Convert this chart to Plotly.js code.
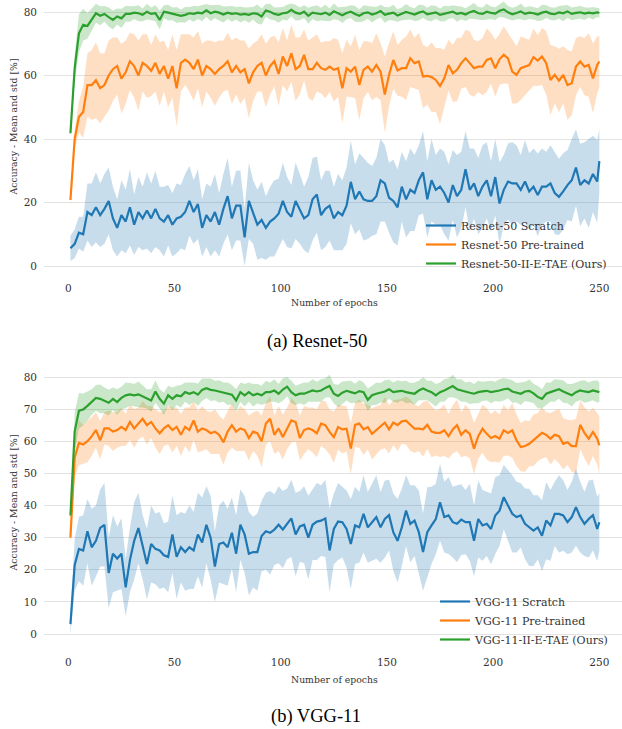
<!DOCTYPE html>
<html><head><meta charset="utf-8">
<script src="https://cdn.plot.ly/plotly-3.0.1.min.js"></script>
<style>html,body{margin:0;padding:0;background:#fff}</style>
</head><body>
<div id="chart" style="width:622px;height:729px"></div>
<script>
// epochs: 1, 3, 5, ..., 249, 250
const epochs = [];
for (let e = 1; e <= 249; e += 2) epochs.push(e);
epochs.push(250);

const xTicks = [0, 50, 100, 150, 200, 250];
const yTicksTop = [0, 20, 40, 60, 80];
const yTicksBottom = [0, 10, 20, 30, 40, 50, 60, 70, 80];

const namesTop = ["Resnet-50 Scratch", "Resnet-50 Pre-trained", "Resnet-50-II-E-TAE (Ours)"];
const namesBottom = ["VGG-11 Scratch", "VGG-11 Pre-trained", "VGG-11-II-E-TAE (Ours)"];

// ---- Resnet-50 ----
const resScratchMean = [
5.6,7,10.5,10,17,16,18.5,16,18,20.5,
15,12,16,14,18.5,13,17,15,17.5,15,
18,15,14,16,13,15,15.5,17,20.5,17,
19.5,12,16,14,17,13,18,22,15,19,
19,9,20.5,17,13,14.5,12,14,15,16.5,
20.5,17,15.5,20.5,18,15,16,21,22.5,16,
18,19,15,17,16,19,26.5,21,23.5,21,
20.5,20.5,22,27,26,21.5,20.5,18.5,25,21,
24,23,27,29.5,21,27,24,25,23,20,
25.5,22,24,30.5,24,26,22,25,27,22,
28,19.7,24,26.6,26,26,24,26.6,23.5,25,
22.4,25,25,26,23,21.8,23.5,25.5,27,31,
25.5,27,26,29,26.6,33];
const resScratchStd = [
4,4.5,5,5.5,9,10,11,10,11,10.5,
10,9,11,10,12,9.5,11,10,12,11,
12,10,11,9.5,10,11,10,12,11,10,
11,9,10,11,12,10,11,12,10,11,
11,9,12,10,11,12,10,11,12,11,
12,11,10,12,11,10,12,13,12,11,
12,11,10,12,11,12,13,11,12,13,
12,11,12,13,12,11,13,12,11,12,
13,12,11,13,12,13,11,12,13,12,
11,13,12,12,13,11,12,13,12,11,
12,13,11,12,13,12,11,13,12,12,
13,12,11,12,13,12,12,11,13,12,
13,12,14,12,13,10];
const resPreMean = [
20.8,40,47,48.5,57,57,58.5,56,57,60,
62,63,59,61,64.5,63,60,64,63,61.5,
64,60.5,63,59,63,56,64,65,64,62,
65,60,63,62,60.5,62,63,64.5,61,63,
61,62,57.5,61,63,64,60,63,64.5,60.5,
66,63,67,62,63,66.5,62,62,64,62.3,
61.8,62.8,61.8,62.3,56,62.3,61.2,62.8,57,61.8,
62.8,61.2,63.3,61.2,54,60.2,64.9,61.6,62.3,62.3,
65.4,63.9,64.4,59.7,59.9,59.5,58.6,56.7,59.1,63.3,
60.7,61.8,63.9,65.4,63.9,62.3,62.8,62.8,64.9,65.4,
62.3,65.1,66.5,65.4,61.2,60.2,62.3,62.8,63.3,65.8,
64.7,66,63.9,58.6,60.2,58.4,60.2,57,57.6,62.8,
64.4,62.8,63.3,59.1,63.3,64.4];
const resPreStd = [
2,3,5,8,10,11,12,11,10,11,
10,9,11,10,9,10,11,9,10,8,
9,10,8,9,10,12,9,8,9,10,
9,10,8,9,10,9,8,9,10,9,
10,9,11,9,8,9,10,9,8,10,
9,8,9,10,9,8,9,10,9,8,
9,8,10,9,11,9,8,10,11,9,
8,9,10,9,12,10,9,8,9,10,
9,8,9,10,9,11,10,12,9,8,
9,10,8,9,10,9,8,9,10,8,
9,8,9,8,10,9,10,9,8,9,
8,9,10,11,9,10,9,11,10,9,
8,9,10,11,9,8];
const resOursMean = [
41.8,62.3,73.3,76,75.6,77.5,79.6,78.8,79.4,78.4,
77.5,78.6,78,79.4,79.4,79.8,79.6,79.1,80.1,79.4,
79.6,77.5,80.1,79.8,79.4,79.1,78.8,79.1,79.6,79.4,
79.8,79.6,80.5,79.6,80.1,79.8,79.2,79.8,79.4,79.6,
79.2,79.4,79.1,79.6,79.4,78.6,80.5,80.1,79.4,79.1,
79.6,79.8,80.7,79.8,79.4,80.1,78.8,79.8,79.6,79.3,
79.8,79.1,80.2,79.5,79,79.7,80.1,79.4,78.8,79.6,
79.9,79.2,79.6,80.3,79.1,79.5,79.8,78.9,79.4,80,
79.6,79.2,79.8,80.2,79.3,79.6,79.9,79.1,79.5,79.8,
80.1,79.4,79.7,79.2,79.9,80.3,79.6,79.4,80.1,79.7,
79.5,80.4,80.8,79.9,79.3,79.7,80.2,79.4,79.8,79.6,
79.2,79.8,80.1,79.5,79.3,79.9,79.6,80.2,79.4,79.7,
79.9,79.5,79.8,79.6,79.9,79.7];
const resOursStd = [
1,4,6,5,4,3.5,3,3,2.5,3,
3,2.5,3,2.5,2.5,2,2.5,2,2.5,2,
2.5,3,2,2.5,2,2.5,2,2.5,2,2.5,
2,2.5,2,2.5,2,2.5,2.5,2,2.5,2,
2.5,2,2.5,2,3,2.5,2,2.5,2,2.5,
2,2.5,2,2.5,2,2,2.5,2,2.5,2,
2.5,2,2.5,2,2.5,2,2,2.5,2,2.5,
2,2.5,2,2,2.5,2,2.5,2,2,2.5,
2,2,2.5,2,2,2.5,2,2,2.5,2,
2,2.5,2,2,2,2.5,2,2,2.5,2,
2,2,2.5,2,2,2,2.5,2,2,2,
2,2.5,2,2,2,2,2.5,2,2,2,
2,2,1.5,2,1.5,1.5];

// ---- VGG-11 ----
const vggScratchMean = [
3.1,21.5,26.5,26,32,27,29,33,34,19,
25,23.5,25,14.5,23,29,33,27,21.8,28,
26.5,26,24.5,24,31,24,27,25.5,27,26,
31,28.5,34,30,21,28,28.5,27,31.5,25,
34,31,25,25.5,25.5,30.5,32,31.5,32.5,34,
32.5,34.3,36,31,33.5,34,30,34,35,35.3,
36,26,32.7,35,34.8,32.7,28,33.8,33.2,37.4,
33.2,34.8,36.4,33.2,35.8,37,31.7,29,33.2,38.4,
34.3,35.3,31.7,25.5,31.7,33.8,35.8,41,36.4,36.9,
34.8,34.3,35.6,34.8,34.8,29,35.8,33.8,34.3,32.7,
36.9,38.4,42.6,40,37.4,36.4,36.9,34.3,33.2,32.2,
33.2,30.6,35.3,33.8,37.4,37.4,36.9,34.8,36.4,39.5,
36.4,34.3,35.8,37,32.7,34.8];
const vggScratchStd = [
3,8,10,11,10,12,11,12,13,11,
12,10,11,9,10,12,11,10,11,12,
11,12,10,11,12,13,11,12,13,12,
13,14,12,13,11,12,13,12,11,12,
11,12,13,11,12,11,12,13,11,12,
12,11,12,13,11,12,13,11,12,11,
12,13,11,12,11,12,14,12,11,12,
11,12,13,11,12,11,12,13,12,11,
12,11,13,12,14,12,11,12,11,12,
11,12,11,10,12,11,12,11,10,11,
12,11,10,11,12,11,10,11,12,11,
10,11,12,11,10,12,11,10,11,12,
11,10,12,11,10,9];
const vggPreMean = [
30,55,59.5,59,60,61.5,63.5,60.3,64,64,
63,63.5,64.5,63.5,66,64,65.5,67,65,66,
64,62.5,64,65,63.5,64.5,62,64.5,63.5,66.5,
63,64,63.5,62.5,63,62,59.7,63,65,63,
64,63.5,61,63,62.5,60,65.5,67,62,64,
61.3,64,66.5,66,61,63.5,64,63.5,62.5,65.5,
65,62.9,61.3,64.4,63.7,63.9,57.7,65.1,65.5,63.7,
64.4,62.3,63.4,64.4,65.8,63.7,65.8,65,66.2,66.4,
65,63.9,63.9,63.7,65.1,63,62.6,62.6,63.4,61.6,
63.7,65,62,63.4,62.3,57.7,61.6,63.9,62.3,61,
61.6,60.8,63.4,62.6,63.4,60.3,58.2,58.5,59.2,60.3,
61.3,62.6,62,60.8,62,61.6,59.2,59.7,58.5,58.5,
65.1,62.6,60.8,62.9,60.8,58.7];
const vggPreStd = [
2,6,7,6,6.5,6,5.5,6,5,5.5,
6,5.5,6,5,5.5,6,5,5.5,6,5,
6,6.5,5.5,6,7,6,6.5,6,7,6,
6.5,7,6,6.5,7,6,7,6.5,7,6,
7,6.5,7,6,7,8,6.5,7,6,7,
7,6.5,7,6,7,7.5,6.5,7,7.5,7,
7.5,7,8,7,7.5,7,8,7,7.5,8,
7,8,7.5,7,8,7.5,7,8,7,7.5,
8,7.5,7,8.5,7.5,8,7,7.5,8,7,
7.5,8,7,8,7.5,8,7,7.5,8,7.5,
8,7.5,8,7,8.5,8,7.5,8,7,8,
7.5,8,7,8,7.5,8.5,8,7,8,8.5,
7.5,8,8.5,7.5,8,9];
const vggOursMean = [
36.9,63,69.5,69.9,71,72.2,73.5,73.2,72.7,72,
73.2,72.2,73.5,74.3,74.6,74.3,74.6,74,73.2,72.7,
75.5,73.2,71.7,74.3,73.2,74.3,74,75.3,74.8,75.3,
74.5,76,76.5,76,75.8,75.5,75.3,74.8,74.5,72.7,
75.3,74.3,75.3,74.3,74.8,74.3,75.3,75.3,75.8,74.8,
76.1,77,75.3,74.3,74.8,74.8,75.3,75.8,75.5,75.8,
76.6,77.2,74.8,74.1,75.1,75.7,75.3,74.9,75.6,75.3,
72.9,74.3,74.8,75.1,75.5,76.2,75.3,75.5,75.7,75.3,
75.1,74.8,75.8,76.4,75.8,75.3,74.3,75.3,75.8,76.6,
77.2,76.2,75.8,75.3,75.1,74.8,75.3,75.5,75.7,75.3,
75.5,75.8,76.2,76.4,75.5,75.1,74.8,75.5,75.7,74.9,
73.8,73.2,74.8,75.3,75.8,76.2,75.5,74.8,74.3,75.3,
75.8,75.5,75.3,75.8,75.5,75.3];
const vggOursStd = [
1,6,5.5,5,4.5,4,4,4.5,4,4,
3.5,4,3.5,4,3.5,3.5,4,3.5,3,3.5,
3.5,3,3.5,3,3.5,3,3.5,3,3.5,3,
3.5,3.5,3,3.5,3,3.5,3,3.5,3,3.5,
3,3.5,3,3.5,3,3,3.5,3,3.5,3,
3.5,3,3.5,3,3,3.5,3,3.5,3,3.5,
3,3.5,3,3.5,3.5,3,3.5,3,3.5,3,
3.5,3,3.5,3,3.5,3,3,3.5,3,3.5,
3,3.5,3,3.5,3,3.5,3.5,3,3.5,3,
3.5,3,3.5,3,3.5,3,3.5,3,3,3.5,
3,3.5,3.5,3,3.5,3,3.5,3,3.5,3,
3.5,3,3.5,3,3.5,3,3.5,3,3.5,3,
3,3.5,3,3,3.5,3];

const colors = ["#1f77b4", "#ff7f0e", "#2ca02c"];
const fills = ["rgba(31,119,180,0.25)", "rgba(255,127,14,0.25)", "rgba(44,160,44,0.25)"];

const W = 622, H = 729, L = 44;
const px = x => (x - L) / (W - L);
const py = y => 1 - y / H;

function buildPanel(means, stds, names, xa, ya, legendId) {
  const bands = [], lines = [];
  means.forEach((m, i) => {
    const s = stds[i];
    const lo = m.map((v, k) => v - s[k]);
    const hi = m.map((v, k) => v + s[k]);
    bands.push({x: epochs, y: lo, xaxis: xa, yaxis: ya, mode: "lines", line: {width: 0, color: fills[i]},
      showlegend: false, hoverinfo: "skip"});
    bands.push({x: epochs, y: hi, xaxis: xa, yaxis: ya, mode: "lines", line: {width: 0, color: fills[i]},
      fill: "tonexty", fillcolor: fills[i], showlegend: false, hoverinfo: "skip"});
    lines.push({x: epochs, y: m, xaxis: xa, yaxis: ya, mode: "lines", name: names[i],
      line: {color: colors[i], width: 2.2}, legend: legendId});
  });
  return bands.concat(lines);
}

const data = buildPanel([resScratchMean, resPreMean, resOursMean], [resScratchStd, resPreStd, resOursStd], namesTop, "x", "y", "legend")
  .concat(buildPanel([vggScratchMean, vggPreMean, vggOursMean], [vggScratchStd, vggPreStd, vggOursStd], namesBottom, "x2", "y2", "legend2"));

const tickFont = {family: "DejaVu Serif", size: 10.5, color: "#333"};
const smallFont = {family: "DejaVu Serif", size: 9.3, color: "#333"};
const capFont = {family: "Liberation Serif", size: 18.5, color: "#000"};
const legFont = {family: "DejaVu Serif", size: 11, color: "#333"};

const xBase = {range: [-11.45, 260.67], tickvals: xTicks, showgrid: false, zeroline: false, showline: false,
  ticks: "", tickfont: tickFont, ticklabelstandoff: 3, domain: [0, 1]};
const yBase = {showgrid: true, gridcolor: "#e2e2e2", gridwidth: 1, zeroline: false, showline: false,
  ticks: "", tickfont: tickFont, ticklabelstandoff: 6};

const layout = {
  width: W, height: H,
  margin: {l: L, r: 0, t: 0, b: 0},
  paper_bgcolor: "#fff", plot_bgcolor: "#fff",
  xaxis: Object.assign({}, xBase, {anchor: "y"}),
  yaxis: Object.assign({}, yBase, {domain: [py(277), py(0)], range: [-3.46, 83.78], tickvals: yTicksTop}),
  xaxis2: Object.assign({}, xBase, {anchor: "y2"}),
  yaxis2: Object.assign({}, yBase, {domain: [py(651), py(362)], range: [-5.29, 84.67], tickvals: yTicksBottom}),
  legend: {x: px(421), y: py(211), xanchor: "left", yanchor: "top", traceorder: "normal",
    bgcolor: "rgba(0,0,0,0)", font: legFont, borderwidth: 0},
  legend2: {x: px(435), y: py(587), xanchor: "left", yanchor: "top", traceorder: "normal",
    bgcolor: "rgba(0,0,0,0)", font: legFont, borderwidth: 0},
  annotations: [
    {text: "Number of epochs", xref: "paper", yref: "paper", x: px(334), y: py(302), showarrow: false, font: smallFont, xanchor: "center", yanchor: "middle"},
    {text: "Number of epochs", xref: "paper", yref: "paper", x: px(334), y: py(679), showarrow: false, font: smallFont, xanchor: "center", yanchor: "middle"},
    {text: "Accuracy - Mean and std [%]", xref: "paper", yref: "paper", x: px(12.5), y: py(127), textangle: -90, showarrow: false, font: smallFont, xanchor: "center", yanchor: "middle"},
    {text: "Accuracy - Mean and std [%]", xref: "paper", yref: "paper", x: px(12.5), y: py(503), textangle: -90, showarrow: false, font: smallFont, xanchor: "center", yanchor: "middle"},
    {text: "(a) Resnet-50", xref: "paper", yref: "paper", x: px(317), y: py(341), showarrow: false, font: capFont, xanchor: "center", yanchor: "middle"},
    {text: "(b) VGG-11", xref: "paper", yref: "paper", x: px(316), y: py(716), showarrow: false, font: capFont, xanchor: "center", yanchor: "middle"}
  ]
};

Plotly.newPlot("chart", data, layout, {staticPlot: true, displayModeBar: false});
</script>
</body></html>
